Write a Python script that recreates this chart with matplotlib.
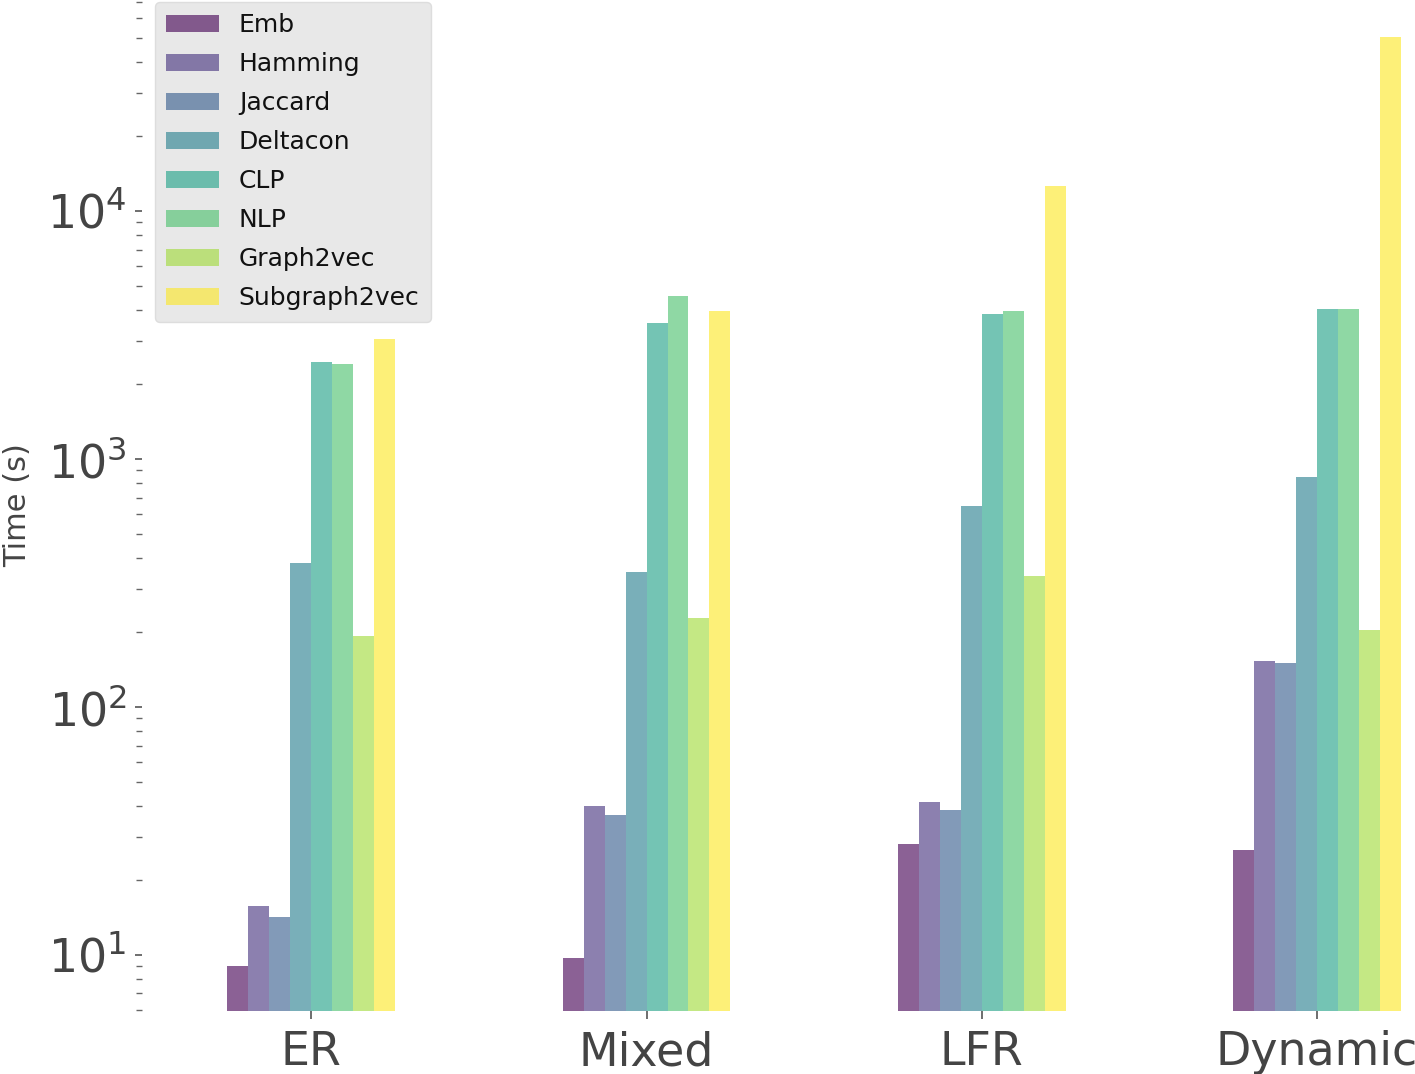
import numpy as np
import matplotlib
matplotlib.use("Agg")
import matplotlib.pyplot as plt

# datasets and methods
datasets = ["ER", "Mixed", "LFR", "Dynamic"]
methods = ["Emb", "Hamming", "Jaccard", "Deltacon", "CLP", "NLP",
           "Graph2vec", "Subgraph2vec"]

# time in seconds, one list per method (ER, Mixed, LFR, Dynamic)
emb = [9.0, 9.7, 28.1, 26.5]
hamming = [15.8, 39.9, 41.4, 153]
jaccard = [14.2, 36.7, 38.5, 150]
deltacon = [381, 350, 646, 845]
clp = [2460, 3530, 3850, 4030]
nlp = [2410, 4540, 3950, 4030]
graph2vec = [193, 228, 338, 204]
subgraph2vec = [3050, 3950, 12600, 50300]

series = [emb, hamming, jaccard, deltacon, clp, nlp, graph2vec, subgraph2vec]

fig = plt.figure(figsize=(14.15, 10.74), dpi=100)
ax = fig.add_axes([142 / 1415, 1 - 1011 / 1074, 1 - 142 / 1415, 1011 / 1074])

colors = plt.cm.viridis(np.linspace(0, 1, len(methods)))
width = 0.5 / len(methods)
x = np.arange(len(datasets))

for i, (name, vals) in enumerate(zip(methods, series)):
    offs = (i - (len(methods) - 1) / 2) * width
    ax.bar(x + offs, vals, width, color=colors[i], alpha=0.62, label=name,
           edgecolor="none")

ax.set_yscale("log")
ax.set_ylim(5.95, 71000)
ax.set_xlim(-0.505, 3.292)
ax.set_xticks(x)
ax.set_xticklabels(datasets, fontsize=33, color="#444444")
ax.tick_params(axis="y", labelsize=33, labelcolor="#444444", colors="#555555",
               length=5, width=1.2, pad=6)
ax.tick_params(axis="y", which="minor", length=4, width=1.0, colors="#666666")
ax.tick_params(axis="x", length=6, width=1.2, colors="#555555",
               labelcolor="#444444", pad=8)
for s in ax.spines.values():
    s.set_visible(False)
ax.set_facecolor("white")
ax.set_ylabel("Time (s)", fontsize=22, color="#444444")
ax.yaxis.set_label_coords(-0.0865, 0.5)

leg = ax.legend(loc="upper left", bbox_to_anchor=(155 / 1415, 1 - 2 / 1074),
                bbox_transform=fig.transFigure, fontsize=18, frameon=True,
                facecolor="#e8e8e8", edgecolor="#dddddd", framealpha=1,
                handlelength=2.1, handleheight=0.7, labelspacing=0.6,
                borderpad=0.45, handletextpad=0.8, borderaxespad=0)
for t in leg.get_texts():
    t.set_color("#111111")
leg.get_frame().set_linewidth(1.0)

fig.savefig("out.png", dpi=100)
